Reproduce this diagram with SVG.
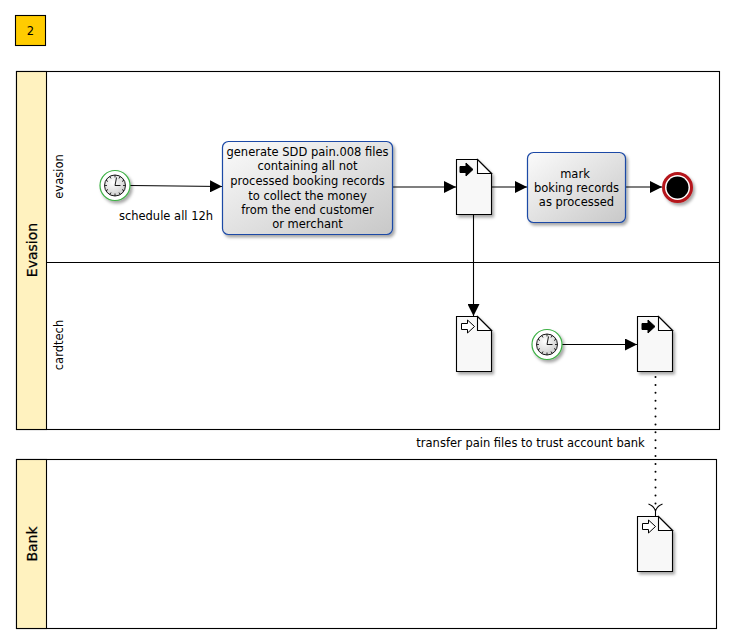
<svg xmlns="http://www.w3.org/2000/svg" width="735" height="644" viewBox="0 0 735 644">
<style>
text{font-family:"DejaVu Sans",sans-serif;font-size:11.5px;fill:#000;text-anchor:middle}
.b{font-size:14px;stroke:#000;stroke-width:.25}
.pool{fill:#fff;stroke:#000;stroke-width:1.1}
.hdr{fill:#fff2bf;stroke:#000;stroke-width:1.1}
.task{fill:url(#tg);stroke:#1c49a6;stroke-width:1.2;filter:url(#sh)}
.doc{fill:#f8f8f8;stroke:#000;stroke-width:1.1;filter:url(#sh)}
.fold{fill:#fff;stroke:#000;stroke-width:1.1}
.ln{fill:none;stroke:#000;stroke-width:1.1}
.tick{stroke:#000;stroke-width:.8}
</style>
<defs>
<linearGradient id="tg" x1="0" y1="0" x2="1" y2="1"><stop offset="0" stop-color="#fbfbfb"/><stop offset="1" stop-color="#c8c8c8"/></linearGradient>
<radialGradient id="cg" cx=".4" cy=".35" r=".8"><stop offset="0" stop-color="#fff"/><stop offset="1" stop-color="#c4c4c4"/></radialGradient>
<filter id="sh" x="-20%" y="-20%" width="150%" height="150%"><feDropShadow dx="2" dy="2.5" stdDeviation="1.8" flood-color="#000" flood-opacity=".35"/></filter>
<marker id="ar" markerUnits="userSpaceOnUse" markerWidth="12" markerHeight="12" refX="12" refY="6" orient="auto"><path d="M0 0L12 6L0 12Z" fill="#000"/></marker>
<g id="clock">
<circle r="15" fill="#fff" stroke="#3cb043" stroke-width="1.2" filter="url(#sh)"/>
<circle r="10.5" fill="url(#cg)" stroke="#000" stroke-width=".9"/>
<path class="tick" d="M0-10.500V-8M0 10.500V8M-10.500 0H-8M10.500 0H8M5.200-9.100L4-7M-5.200-9.100L-4-7M5.200 9.100L4 7M-5.200 9.100L-4 7M9.100-5.200L7-4M-9.100-5.200L-7-4M9.100 5.200L7 4M-9.100 5.200L-7 4"/>
<path d="M1.500-8L0 0L5.500 0" fill="none" stroke="#000" stroke-width=".9"/>
</g>
<g id="doc">
<path class="doc" d="M0 0H21L35 14V55H0Z"/>
<path class="fold" d="M21 0V14H35Z"/>
</g>
</defs>
<rect width="735" height="644" fill="#fff"/>
<g id="marker-2"><rect x="15.500" y="15.500" width="30" height="30" fill="#fc0" stroke="#000" stroke-width="1.1"/><text x="30.500" y="35">2</text></g>
<g id="pool-evasion">
<rect class="pool" x="16.500" y="71.500" width="703" height="358"/>
<rect class="hdr" x="16.500" y="71.500" width="30" height="358"/>
<line class="ln" x1="46.500" y1="262.500" x2="719.500" y2="262.500"/>
<text class="b" transform="translate(37 250) rotate(-90)">Evasion</text>
<text transform="translate(63 176.500) rotate(-90)">evasion</text>
<text transform="translate(63 345) rotate(-90)">cardtech</text>
</g>
<g id="pool-bank">
<rect class="pool" x="16.500" y="459.500" width="700" height="169"/>
<rect class="hdr" x="16.500" y="459.500" width="30" height="169"/>
<text class="b" transform="translate(37 544) rotate(-90)">Bank</text>
</g>
<g id="connectors">
<path class="ln" marker-end="url(#ar)" d="M130 185.500L222 186.500"/>
<path class="ln" marker-end="url(#ar)" d="M392 187H456"/>
<path class="ln" marker-end="url(#ar)" d="M492 187H527"/>
<path class="ln" marker-end="url(#ar)" d="M626 187H662"/>
<path class="ln" marker-end="url(#ar)" d="M473.500 214V316"/>
<path class="ln" marker-end="url(#ar)" d="M562 344.500H637"/>
<path fill="none" stroke="#000" stroke-width="2" stroke-linecap="round" stroke-dasharray="0 7.900" d="M655.500 377V505"/>
<path class="ln" d="M648.500 504Q654 506 655.500 511Q657 506 662.500 504M655.500 511V516"/>
</g>
<g id="start-1"><use href="#clock" x="115" y="185.500"/></g>
<text x="166" y="220">schedule all 12h</text>
<g id="task-generate">
<rect class="task" x="222.500" y="141.500" width="170" height="93" rx="6"/>
<text x="307.500" y="156">generate SDD pain.008 files</text>
<text x="307.500" y="170">containing all not</text>
<text x="307.500" y="184.500">processed booking records</text>
<text x="307.500" y="199.500">to collect the money</text>
<text x="307.500" y="213.500">from the end customer</text>
<text x="307.500" y="227.500">or merchant</text>
</g>
<g id="doc-1"><use href="#doc" x="456.500" y="159.500"/><path d="M460 166.500h6v-3.500l7 6.500-7 6.500v-3.500h-6z" fill="#000" stroke="#000"/></g>
<g id="task-mark">
<rect class="task" x="527.500" y="152.500" width="98" height="70" rx="6"/>
<text x="575" y="178">mark</text>
<text x="576.500" y="192">boking records</text>
<text x="576.500" y="206">as processed</text>
</g>
<g id="end-1"><circle cx="677.500" cy="187.500" r="14" fill="#fff" stroke="#b5151b" stroke-width="3" filter="url(#sh)"/><circle cx="677.500" cy="187.500" r="11" fill="#000"/></g>
<g id="doc-2"><use href="#doc" x="456.500" y="316.500"/><path d="M461.500 323.500h6v-3.500l7 6.500-7 6.500v-3.500h-6z" fill="#fff" stroke="#000"/></g>
<g id="start-2"><use href="#clock" x="547" y="344.500"/></g>
<g id="doc-3"><use href="#doc" x="637.500" y="316.500"/><path d="M642 323.500h6v-3.500l7 6.500-7 6.500v-3.500h-6z" fill="#000" stroke="#000"/></g>
<text x="530.500" y="446.500">transfer pain files to trust account bank</text>
<g id="doc-4"><use href="#doc" x="637.500" y="516.500"/><path d="M642.500 523.500h6v-3.500l7 6.500-7 6.500v-3.500h-6z" fill="#fff" stroke="#000"/></g>
</svg>
